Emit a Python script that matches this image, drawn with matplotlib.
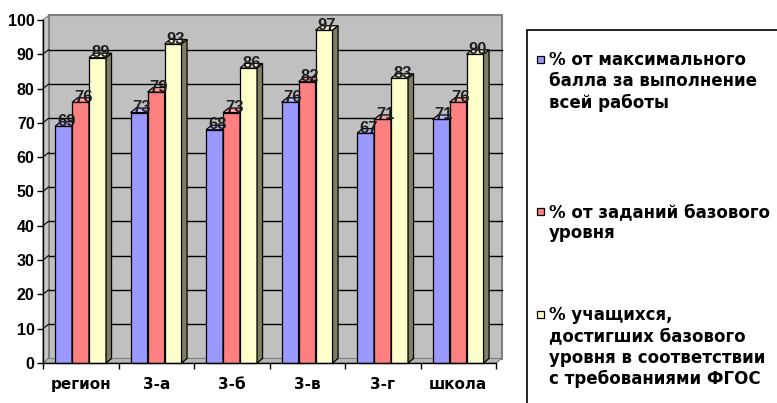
import matplotlib
matplotlib.use("Agg")
import matplotlib.pyplot as plt
from matplotlib.patches import Rectangle, Polygon

plt.rcParams['font.family'] = ['Liberation Sans', 'DejaVu Sans']
plt.rcParams['font.weight'] = 'bold'

categories = ["регион", "3-а", "3-б", "3-в", "3-г", "школа"]
series_names = [
    "% от максимального\nбалла за выполнение\nвсей работы",
    "% от заданий базового\nуровня",
    "% учащихся,\nдостигших базового\nуровня в соответствии\nс требованиями ФГОС",
]
s_max = [69, 73, 68, 76, 67, 71]
s_base = [76, 79, 73, 82, 71, 76]
s_students = [89, 93, 86, 97, 83, 90]
series = [s_max, s_base, s_students]
yticks = [0, 10, 20, 30, 40, 50, 60, 70, 80, 90, 100]

front_colors = ["#9999FF", "#FF8080", "#FFFFCC"]
top_colors = ["#B8B8FF", "#FF9F9F", "#FFFFE0"]
side_color = "#808060"
wide_font = ['DejaVu Sans']

W, H = 777, 403
fig = plt.figure(figsize=(W / 100, H / 100), dpi=100)
fig.patch.set_facecolor("white")

ax_l, ax_r, ax_t, ax_b = 43, 496, 20, 363
ax = fig.add_axes([ax_l / W, (H - ax_b) / H, (ax_r - ax_l) / W, (ax_b - ax_t) / H])
n = len(categories)
ax.set_xlim(0, n)
ax.set_ylim(0, 100)
ax.patch.set_visible(False)

px_x = (ax_r - ax_l) / n
px_y = (ax_b - ax_t) / 100
ddx = 5.5 / px_x
ddy = 4.5 / px_y

# walls
side = Polygon([(0, 0), (ddx, ddy), (ddx, 100 + ddy), (0, 100)], closed=True,
               facecolor="#C8C8C8", edgecolor="#808080", lw=0.8, clip_on=False, zorder=1)
ax.add_patch(side)
back = Rectangle((ddx, ddy), n, 100, facecolor="#C0C0C0", edgecolor="#808080",
                 lw=1.5, clip_on=False, zorder=1)
ax.add_patch(back)
floor = Polygon([(0, 0), (n, 0), (n + ddx, ddy), (ddx, ddy)], closed=True,
                facecolor="#B8B8B8", edgecolor="#808080", lw=0.8, clip_on=False, zorder=1)
ax.add_patch(floor)
for v in yticks[1:-1]:
    ax.plot([ddx, n + ddx], [v + ddy, v + ddy], color="black", lw=1.0, zorder=2, clip_on=False)
    ax.plot([0, ddx], [v, v + ddy], color="black", lw=0.8, zorder=2, clip_on=False)

# bars
bw = 0.225
start = 0.16
for i in range(n):
    for j, s in enumerate(series):
        v = s[i]
        x0 = i + start + j * bw
        z = 3 + j * 0.1
        ax.add_patch(Rectangle((x0, 0), bw, v, facecolor=front_colors[j],
                               edgecolor="black", lw=0.9, zorder=z, clip_on=False))
        ax.add_patch(Polygon([(x0, v), (x0 + ddx, v + ddy), (x0 + bw + ddx, v + ddy), (x0 + bw, v)],
                             closed=True, facecolor=top_colors[j], edgecolor="black", lw=0.9,
                             zorder=z, clip_on=False))
        ax.add_patch(Polygon([(x0 + bw, 0), (x0 + bw + ddx, ddy), (x0 + bw + ddx, v + ddy), (x0 + bw, v)],
                             closed=True, facecolor=side_color, edgecolor="black", lw=0.9,
                             zorder=z, clip_on=False))
for i in range(n):
    for j, s in enumerate(series):
        v = s[i]
        x0 = i + start + j * bw
        ax.text(x0 + bw / 2 + ddx / 2, v + ddy * 1.1, str(v), ha="center", va="center",
                fontsize=12, fontweight="bold", color="#202020", zorder=10)

# axes
for sp in ["top", "right", "bottom"]:
    ax.spines[sp].set_visible(False)
ax.spines["left"].set_color("black")
ax.spines["left"].set_linewidth(1.0)
ax.plot([0, n], [0, 0], color="black", lw=1.0, clip_on=False, zorder=5)
ax.set_yticks(yticks)
ax.set_yticklabels([str(t) for t in yticks], fontsize=11.5, fontweight="bold")
ax.tick_params(axis="y", direction="out", length=4, width=1, pad=2)
ax.set_xticks(range(n + 1))
ax.set_xticklabels([""] * (n + 1))
ax.tick_params(axis="x", direction="out", length=4, width=1)
for i, c in enumerate(categories):
    ax.text(i + 0.5, -4.0, c, ha="center", va="top", fontsize=11, fontweight="bold",
            family=wide_font, clip_on=False)

# legend
fig.add_artist(Rectangle((527 / W, (H - 410) / H), (800 - 527) / W, (410 - 30) / H,
                         transform=fig.transFigure, facecolor="white", edgecolor="black",
                         lw=1.2, clip_on=False))
leg_tops = [51, 203, 306]
for j, name in enumerate(series_names):
    yt = leg_tops[j]
    fig.add_artist(Rectangle((536.5 / W, (H - yt - 12) / H), 7 / W, 7 / H,
                             transform=fig.transFigure, facecolor=front_colors[j],
                             edgecolor="black", lw=0.9))
    fig.text(549 / W, (H - yt) / H, name, ha="left", va="top", fontsize=12,
             fontweight="bold", family=wide_font, linespacing=1.24)

fig.savefig("out.png", dpi=100)
